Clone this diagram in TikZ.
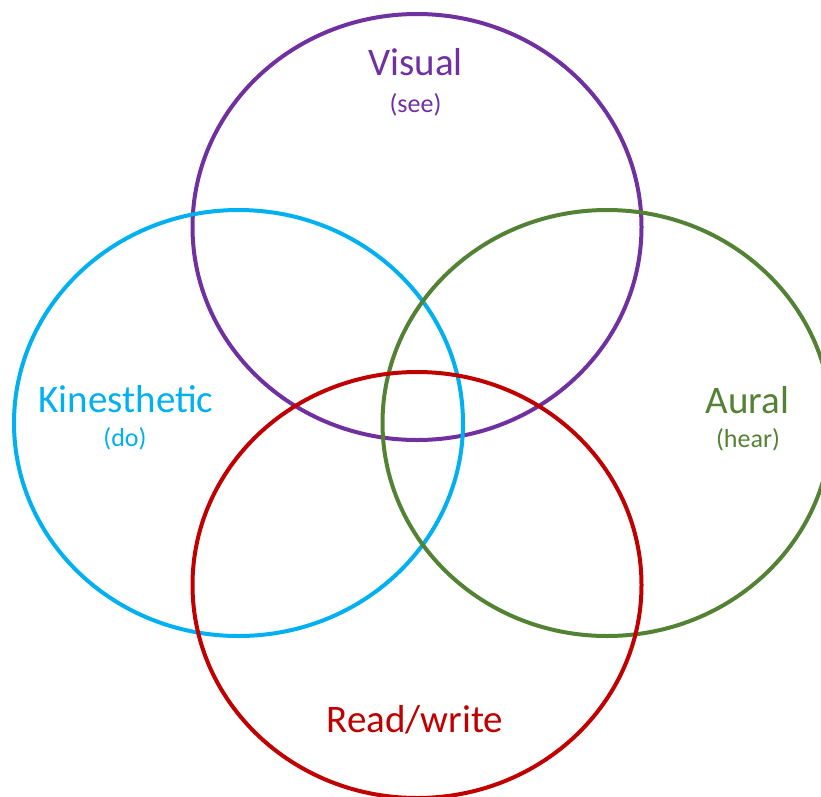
\documentclass[tikz,border=0pt]{standalone}
\usepackage{fontspec}
\setmainfont{Carlito}
\usetikzlibrary{shapes.geometric}
\definecolor{vpurple}{HTML}{7030A0}
\definecolor{kcyan}{HTML}{00B0F0}
\definecolor{agreen}{HTML}{548235}
\definecolor{rred}{HTML}{C00000}
\begin{document}
\begin{tikzpicture}[x=1pt,y=-1pt,
  ring/.style={ellipse,draw=#1,line width=4pt,minimum width=449pt,minimum height=426pt,inner sep=0pt},
  title/.style={anchor=base,text=#1,font=\fontsize{39}{44}\selectfont,inner sep=0pt},
  hint/.style={anchor=base,text=#1,font=\fontsize{26}{30}\selectfont,inner sep=0pt}]
  \useasboundingbox (0,0) rectangle (821,796);
  \clip (0,0) rectangle (821,796);
  % the four learning-style rings
  \node[ring=vpurple] (visual) at (417,227) {};
  \node[ring=kcyan] (kin) at (238.5,423) {};
  \node[ring=agreen] (aural) at (607,423) {};
  \node[ring=rred] (rw) at (417,585) {};
  % labels
  \node[title=vpurple] (tV) at (415.5,75) {Visual};
  \node[hint=vpurple] (hV) at (415.5,112) {(see)};
  \node[title=kcyan] (tK) at (126,412) {Kinesthetic};
  \node[hint=kcyan] (hK) at (125,446) {(do)};
  \node[title=agreen] (tA) at (747.5,413) {Aural};
  \node[hint=agreen] (hA) at (748,447) {(hear)};
  \node[title=rred] (tR) at (415,732) {Read/write};
\end{tikzpicture}
\end{document}
